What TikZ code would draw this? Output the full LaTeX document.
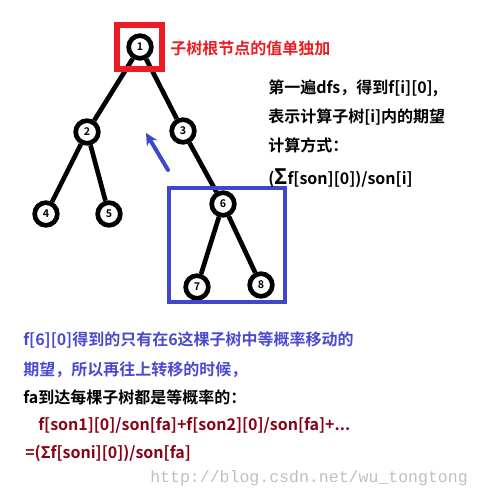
\documentclass[tikz,border=0pt]{standalone}
\usepackage{fontspec}
\setmainfont{Noto Sans CJK SC}[BoldFont={Noto Sans CJK SC Bold}]
\newfontfamily\urlfont{Liberation Mono}
\usetikzlibrary{arrows.meta}
\definecolor{boxred}{HTML}{ED1C24}
\definecolor{boxblue}{HTML}{3F48CC}
\definecolor{noteblue}{HTML}{4A4AD0}
\definecolor{notered}{HTML}{880015}

\begin{document}
\begin{tikzpicture}[
		x=0.75pt, y=-0.75pt,
		vert/.style={circle,draw=black,fill=white,line width=3.5pt,
		inner sep=0pt,minimum size=17pt,font=\footnotesize\bfseries},
		edge/.style={line width=3.5pt,draw=black},
		note/.style={anchor=west,inner sep=0pt,font=\bfseries\fontsize{12pt}{14pt}\selectfont}
		]
		\useasboundingbox (0,0) rectangle (480,498);
		% tree
		\node[vert] (v1) at (140,47)  {1};
		\node[vert] (v2) at (87,132)  {2};
		\node[vert] (v3) at (183,131) {3};
		\node[vert] (v4) at (46,214)  {4};
		\node[vert] (v5) at (109,214) {5};
		\node[vert] (v6) at (223,204) {6};
		\node[vert] (v7) at (197,287) {7};
		\node[vert] (v8) at (261,285) {8};
		\draw[edge] (v1) -- (v2);
		\draw[edge] (v1) -- (v3);
		\draw[edge] (v2) -- (v4);
		\draw[edge] (v2) -- (v5);
		\draw[edge] (v3) -- (v6);
		\draw[edge] (v6) -- (v7);
		\draw[edge] (v6) -- (v8);
		% boxes
		\draw[boxred, line width=3.8pt] (117,25) rectangle (162,69);
		\draw[boxblue, line width=3.5pt] (169,188) rectangle (285,302);
		\coordinate (tail) at (168,170);
		\coordinate (tip) at (146,133);
		\draw[boxblue, line width=3pt, line cap=round,
			-{Stealth[length=9pt,width=9pt]}] (tail) -- (tip);
		% notes
		\node[note, text=boxred] (root) at (170,48) {子树根节点的值单独加};
		\node[note] (d1) at (268,88)  {第一遍dfs，得到f[i][0],};
		\node[note] (d2) at (268,117) {表示计算子树[i]内的期望};
		\node[note] (d3) at (268,145) {计算方式：};
		\node[note] (d4) at (268,178) {({\fontsize{16pt}{16pt}\selectfont Σ}f[son][0])/son[i]};
		\node[note, text=noteblue] (b1) at (23,340) {f[6][0]得到的只有在6这棵子树中等概率移动的};
		\node[note, text=noteblue] (b2) at (23,370) {期望，所以再往上转移的时候，};
		\node[note] (b3) at (23,397) {fa到达每棵子树都是等概率的：};
		\node[note, text=notered] (b4) at (38,425) {f[son1][0]/son[fa]+f[son2][0]/son[fa]+...};
		\node[note, text=notered] (b5) at (25,453) {=(Σf[soni][0])/son[fa]};
		\node[anchor=west, inner sep=0pt, text=black!25, font=\urlfont\fontsize{12.4pt}{14pt}\selectfont]
			(url) at (150,478) {http://blog.csdn.net/wu\_tongtong};
	\end{tikzpicture}
\end{document}
